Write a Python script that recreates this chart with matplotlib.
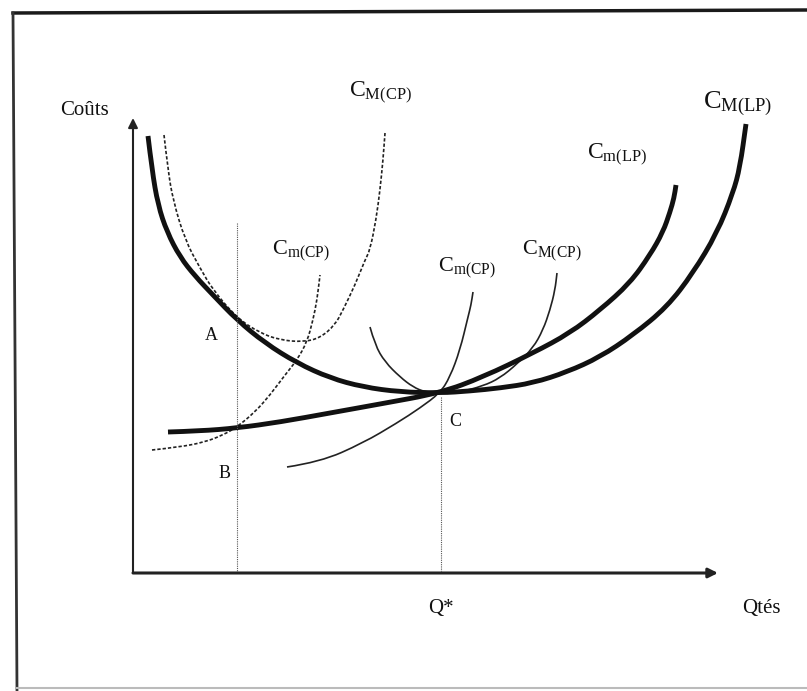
import matplotlib
matplotlib.use("Agg")
import matplotlib.pyplot as plt
from matplotlib.path import Path
from matplotlib.patches import PathPatch

plt.rcParams['font.family'] = ['Liberation Serif', 'DejaVu Serif']
plt.rcParams['mathtext.fontset'] = 'custom'
plt.rcParams['mathtext.rm'] = 'Liberation Serif'
plt.rcParams['mathtext.it'] = 'Liberation Serif:italic'

# curves (page coordinates, y grows downward)
# long run average cost  C_M(LP)
lrac_x = [148, 152, 158, 167, 180, 195, 213, 237, 265, 297, 330, 363, 400, 440,
          470, 500, 533, 567, 600, 633, 667, 693, 717, 733, 740, 746]
lrac_y = [136, 170, 205, 232, 257, 276, 295, 320, 343, 363, 378, 387, 392, 393,
          391, 388, 383, 372, 357, 335, 307, 273, 233, 193, 167, 124]

# long run marginal cost  C_m(LP)
lrmc_x = [168, 200, 237, 280, 330, 380, 440, 483, 533, 570, 600, 630, 650, 663, 670, 674, 676]
lrmc_y = [432, 431, 428, 422, 413, 404, 393, 377, 353, 333, 310, 283, 255, 232, 212, 198, 185]

# short run average cost at A (dashed)  C_M(CP)
srac1_x = [164, 168, 173, 185, 200, 213, 237, 260, 280, 303, 320, 335, 343, 355,
           365, 370, 376, 380, 383, 385]
srac1_y = [135, 170, 200, 240, 268, 290, 318, 333, 340, 342, 338, 325, 310, 285,
           260, 250, 220, 190, 160, 133]

# short run marginal cost at A (dashed)  C_m(CP)
srmc1_x = [152, 180, 205, 223, 237, 255, 270, 285, 297, 307, 313, 317, 320]
srmc1_y = [450, 447, 442, 435, 427, 412, 395, 375, 360, 342, 320, 300, 275]

# short run average cost at C (thin)  C_M(CP)
srac2_x = [370, 375, 385, 400, 413, 425, 440, 460, 483, 500, 517, 533, 543, 550, 555, 557]
srac2_y = [327, 345, 362, 377, 387, 392, 393, 392, 386, 378, 364, 348, 330, 310, 290, 273]

# short run marginal cost at C (thin)  C_m(CP)
srmc2_x = [287, 320, 363, 397, 420, 440, 450, 460, 468, 471, 473]
srmc2_y = [467, 462, 443, 423, 408, 393, 377, 350, 317, 305, 292]

# quantity guides (A/B and Q*)
guide_x = [237, 441]
guide_top = [223, 397]


def curve(ax, xs, ys, **kw):
    # quadratic bezier through the midpoints, read points act as controls
    verts = [(xs[0], ys[0])]
    codes = [Path.MOVETO]
    for i in range(1, len(xs) - 1):
        verts += [(xs[i], ys[i]), ((xs[i] + xs[i + 1]) / 2, (ys[i] + ys[i + 1]) / 2)]
        codes += [Path.CURVE3, Path.CURVE3]
    verts.append((xs[-1], ys[-1]))
    codes.append(Path.LINETO)
    ax.add_patch(PathPatch(Path(verts, codes), fill=False, capstyle='butt', **kw))


fig = plt.figure(figsize=(8.07, 6.91), dpi=100)
ax = fig.add_axes([0, 0, 1, 1])
ax.set_xlim(0, 807)
ax.set_ylim(691, 0)
ax.axis('off')

# frame of the scanned box
ax.plot([13, 807], [13, 10], color='#1a1a1a', lw=2.5)
ax.plot([13, 17], [13, 691], color='#333333', lw=2)
ax.plot([17, 807], [688, 688], color='#bbbbbb', lw=1.5)

# axes with arrows
orig_x, orig_y = 133, 573
ax.annotate('', xy=(orig_x, 118), xytext=(orig_x, orig_y),
            arrowprops=dict(arrowstyle='-|>', color='#222222', lw=1.5,
                            mutation_scale=14, shrinkA=0, shrinkB=0))
ax.annotate('', xy=(718, orig_y), xytext=(orig_x, orig_y),
            arrowprops=dict(arrowstyle='-|>', color='#222222', lw=2.2,
                            mutation_scale=14, shrinkA=0, shrinkB=0))

for gx, gt in zip(guide_x, guide_top):
    ax.plot([gx, gx], [gt, orig_y - 2], color='#555555', lw=0.8, ls=(0, (1, 1)))

curve(ax, srac1_x, srac1_y, edgecolor='#222222', lw=1.2, ls=(0, (2, 1.2)))
curve(ax, srmc1_x, srmc1_y, edgecolor='#222222', lw=1.2, ls=(0, (2, 1.2)))
curve(ax, srac2_x, srac2_y, edgecolor='#222222', lw=1.2)
curve(ax, srmc2_x, srmc2_y, edgecolor='#222222', lw=1.2)
curve(ax, lrac_x, lrac_y, edgecolor='#111111', lw=3.5)
curve(ax, lrmc_x, lrmc_y, edgecolor='#111111', lw=3.5)

lab = dict(color='#111111', ha='left', va='baseline')
ax.text(60, 115, 'Coûts', fontsize=15, **lab)
ax.text(349, 97, r'$\mathrm{C}_{\mathrm{M(CP)}}$', fontsize=17, **lab)
ax.text(703, 108, r'$\mathrm{C}_{\mathrm{M(LP)}}$', fontsize=19, **lab)
ax.text(587, 159, r'$\mathrm{C}_{\mathrm{m(LP)}}$', fontsize=17, **lab)
ax.text(272, 254, r'$\mathrm{C}_{\mathrm{m(CP)}}$', fontsize=16, **lab)
ax.text(438, 271, r'$\mathrm{C}_{\mathrm{m(CP)}}$', fontsize=16, **lab)
ax.text(522, 254, r'$\mathrm{C}_{\mathrm{M(CP)}}$', fontsize=16, **lab)
ax.text(205, 340, 'A', fontsize=13, **lab)
ax.text(219, 478, 'B', fontsize=13, **lab)
ax.text(449, 426, 'C', fontsize=13, **lab)
ax.text(428, 613, 'Q*', fontsize=15, **lab)
ax.text(742, 613, 'Qtés', fontsize=15, **lab)

fig.savefig('out.png', dpi=100, facecolor='white')
